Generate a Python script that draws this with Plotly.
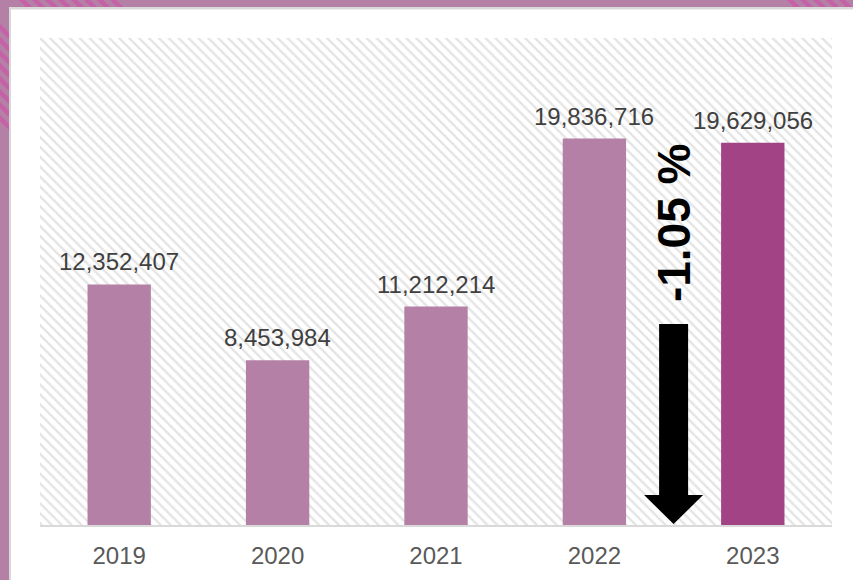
import plotly.graph_objects as go

years = ["2019", "2020", "2021", "2022", "2023"]
values = [12352407, 8453984, 11212214, 19836716, 19629056]
change_label = "-1.05 %"

W, H = 853, 580
L, R, T, B = 40, 21, 38, 55
PW, PH = W - L - R, H - T - B

def px(xp):
    return (xp - L) / PW

def py(yp):
    return (H - B - yp) / PH

bar_colors = ["#b580a6"] * (len(years) - 1) + ["#a14385"]
idx = list(range(len(years)))

fig = go.Figure()

# hatched plot background
fig.add_trace(go.Bar(
    x=[0.5], y=[1], width=[1], xaxis="x", yaxis="y",
    marker=dict(color="white", line=dict(width=0),
                pattern=dict(shape="\\", fgcolor="#c9c9c9", bgcolor="white",
                             size=7, solidity=0.33)),
    hoverinfo="skip", showlegend=False,
))

fig.add_trace(go.Bar(
    x=idx, y=values, xaxis="x2", yaxis="y2",
    marker=dict(color=bar_colors, line=dict(width=0)),
    hoverinfo="x+y", showlegend=False,
))

label_font = dict(size=24, color="#404040", family="Liberation Sans, Arial")
annotations = [dict(x=i, y=v, xref="x2", yref="y2", text=f"{v:,}",
                    showarrow=False, yanchor="bottom", yshift=7, font=label_font)
               for i, v in zip(idx, values)]

shapes = []
stripe = "#c562a7"
# top-left corner stripes
for a in list(range(-118, -25, 13)) + list(range(22, 115, 13)):
    shapes.append(dict(type="line", xref="paper", yref="paper",
                       x0=px(a - 30), y0=py(-30), x1=px(a + 140), y1=py(140),
                       line=dict(color=stripe, width=4.5), layer="below"))
# top-right corner stripes
for a in range(790, 880, 13):
    shapes.append(dict(type="line", xref="paper", yref="paper",
                       x0=px(a - 30), y0=py(-30), x1=px(a + 60), y1=py(60),
                       line=dict(color=stripe, width=4.5), layer="below"))
# shadow + white panel
shapes.append(dict(type="rect", xref="paper", yref="paper",
                   x0=px(9), y0=py(7), x1=px(W + 5), y1=py(H + 5),
                   fillcolor="#d9d9d9", line=dict(width=0), layer="below"))
shapes.append(dict(type="rect", xref="paper", yref="paper",
                   x0=px(11), y0=py(9.5), x1=px(W + 5), y1=py(H + 5),
                   fillcolor="white", line=dict(width=0), layer="below"))

# down arrow between last two bars
ymax = 25000000
cx = 3.5
sw, hw = 14.5 / PW * 5, 29.5 / PW * 5
top_v, base_v, tip_v = (525 - 324) / PH * ymax, (525 - 495) / PH * ymax, (525 - 524) / PH * ymax
path = (f"M {cx - sw},{top_v} L {cx + sw},{top_v} L {cx + sw},{base_v} "
        f"L {cx + hw},{base_v} L {cx},{tip_v} L {cx - hw},{base_v} "
        f"L {cx - sw},{base_v} Z")
shapes.append(dict(type="path", xref="x2", yref="y2", path=path,
                   fillcolor="black", line=dict(width=0), layer="above"))

annotations.append(dict(x=cx, y=(525 - 222.5) / PH * ymax, xref="x2", yref="y2",
                        text=f"<b>{change_label}</b>", textangle=-90, showarrow=False,
                        font=dict(size=46, color="black", family="Liberation Sans, Arial")))

fig.update_layout(
    width=W, height=H,
    margin=dict(l=L, r=R, t=T, b=B),
    paper_bgcolor="#b580a6",
    plot_bgcolor="white",
    bargap=0.6,
    xaxis=dict(range=[0, 1], visible=False, fixedrange=True),
    yaxis=dict(range=[0, 1], visible=False, fixedrange=True),
    xaxis2=dict(overlaying="x", range=[-0.5, len(years) - 0.5],
                tickvals=idx, ticktext=years, showgrid=False, zeroline=False,
                showline=True, linecolor="#d9d9d9", linewidth=2, ticks="",
                ticklabelstandoff=8,
                tickfont=dict(size=24, color="#595959", family="Liberation Sans, Arial")),
    yaxis2=dict(overlaying="y", range=[0, ymax], visible=False,
                showgrid=False, zeroline=False),
    shapes=shapes,
    annotations=annotations,
    font=dict(family="Liberation Sans, Arial"),
)

fig.write_html("out.html", config={"displayModeBar": False},
               post_script="document.body.style.margin='0px';document.body.style.padding='0px';document.body.style.overflow='hidden';")
